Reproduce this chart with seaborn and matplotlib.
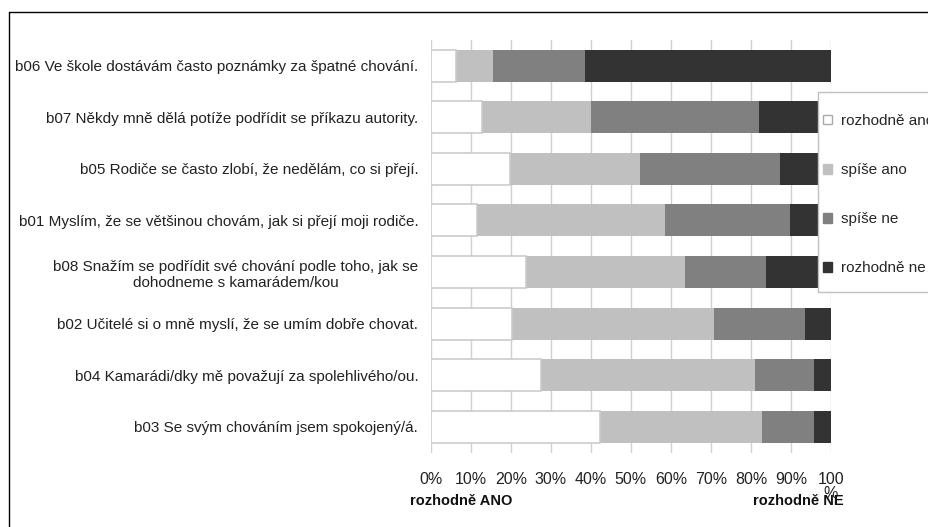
import matplotlib

matplotlib.use('Agg')
import matplotlib.pyplot as plt
import seaborn as sns
import pandas as pd
from matplotlib.patches import Patch, Rectangle
from matplotlib.lines import Line2D

sns.set_theme(style="white")
plt.rcParams['font.family'] = ['Liberation Sans', 'DejaVu Sans']

# data (percent of answers)
statements = [
    "b06 Ve škole dostávám často poznámky za špatné chování.",
    "b07 Někdy mně dělá potíže podřídit se příkazu autority.",
    "b05 Rodiče se často zlobí, že nedělám, co si přejí.",
    "b01 Myslím, že se většinou chovám, jak si přejí moji rodiče.",
    "b08 Snažím se podřídit své chování podle toho, jak se\ndohodneme s kamarádem/kou",
    "b02 Učitelé si o mně myslí, že se umím dobře chovat.",
    "b04 Kamarádi/dky mě považují za spolehlivého/ou.",
    "b03 Se svým chováním jsem spokojený/á.",
]
answers = ['rozhodně ano', 'spíše ano', 'spíše ne', 'rozhodně ne']
rozhodne_ano = [6.2, 12.9, 19.8, 11.5, 23.7, 20.2, 27.6, 42.3]
spise_ano = [9.4, 27.2, 32.5, 47.1, 39.9, 50.6, 53.5, 40.5]
spise_ne = [23.0, 42.0, 35.0, 31.2, 20.2, 22.8, 14.7, 13.0]
rozhodne_ne = [61.4, 17.9, 12.7, 10.2, 16.2, 6.4, 4.2, 4.2]
x_ticks = [0, 10, 20, 30, 40, 50, 60, 70, 80, 90, 100]
x_labels = [f"{t}%" for t in x_ticks[:-1]] + ["100\n%"]

colors = ['#ffffff', '#c0c0c0', '#808080', '#333333']
edges = ['#cccccc', 'none', 'none', 'none']

df = pd.DataFrame({'statement': statements,
                   answers[0]: rozhodne_ano,
                   answers[1]: spise_ano,
                   answers[2]: spise_ne,
                   answers[3]: rozhodne_ne})
cum = df[answers].cumsum(axis=1)

W, H = 929, 527
fig = plt.figure(figsize=(W / 100, H / 100), dpi=100)
ax = fig.add_axes([430.7 / W, 1 - 452.5 / H, 400.3 / W, 412.5 / H])

# stacked bars: draw cumulative totals from the widest down
for i in reversed(range(len(answers))):
    sns.barplot(x=cum[answers[i]], y=df['statement'], color=colors[i], saturation=1,
                width=0.62, errorbar=None, edgecolor=edges[i],
                linewidth=1.2 if i == 0 else 0, ax=ax)

ax.set_xlim(0, 100)
ax.set_ylim(7.5, -0.5)
ax.set_xticks(x_ticks)
ax.set_xticklabels(x_labels, fontsize=11.5, linespacing=0.9)
ax.tick_params(axis='x', length=0, pad=14, colors='#222222')
ax.tick_params(axis='y', length=0, pad=9, labelsize=11, colors='#222222')
plt.setp(ax.get_yticklabels(), multialignment='center')
ax.set_xlabel('')
ax.set_ylabel('')
ax.xaxis.grid(True, color='#d0d0d0', lw=1)
ax.set_axisbelow(True)
for s in ax.spines.values():
    s.set_visible(False)

fig.text(410 / W, 1 - 501 / H, "rozhodně ANO", ha='left', va='center',
         fontsize=10.5, fontweight='bold', color='#111111')
fig.text(844 / W, 1 - 501 / H, "rozhodně NE", ha='right', va='center',
         fontsize=10.5, fontweight='bold', color='#111111')

# legend box, partly outside the picture
fig.add_artist(Rectangle((818 / W, 1 - 292 / H), 130 / W, 200 / H, transform=fig.transFigure,
                         facecolor='white', edgecolor='#c0c0c0', lw=1, zorder=3))
handles = [Patch(facecolor=c, edgecolor='#aaaaaa' if c == '#ffffff' else c) for c in colors]
leg = fig.legend(handles, answers, loc='upper left', bbox_to_anchor=(823 / W, 1 - 114 / H),
                 frameon=False, fontsize=11, handlelength=0.6, handleheight=0.6,
                 handletextpad=0.6, labelspacing=2.3, borderpad=0, borderaxespad=0)
leg.set_zorder(4)

# outer frame lines
fig.add_artist(Line2D([8.5 / W, 8.5 / W], [1 - 12 / H, 0], color='black', lw=1,
                      transform=fig.transFigure))
fig.add_artist(Line2D([8.5 / W, 1], [1 - 12 / H, 1 - 12 / H], color='black', lw=1,
                      transform=fig.transFigure))

fig.savefig('out.png', dpi=100)
plt.close()
